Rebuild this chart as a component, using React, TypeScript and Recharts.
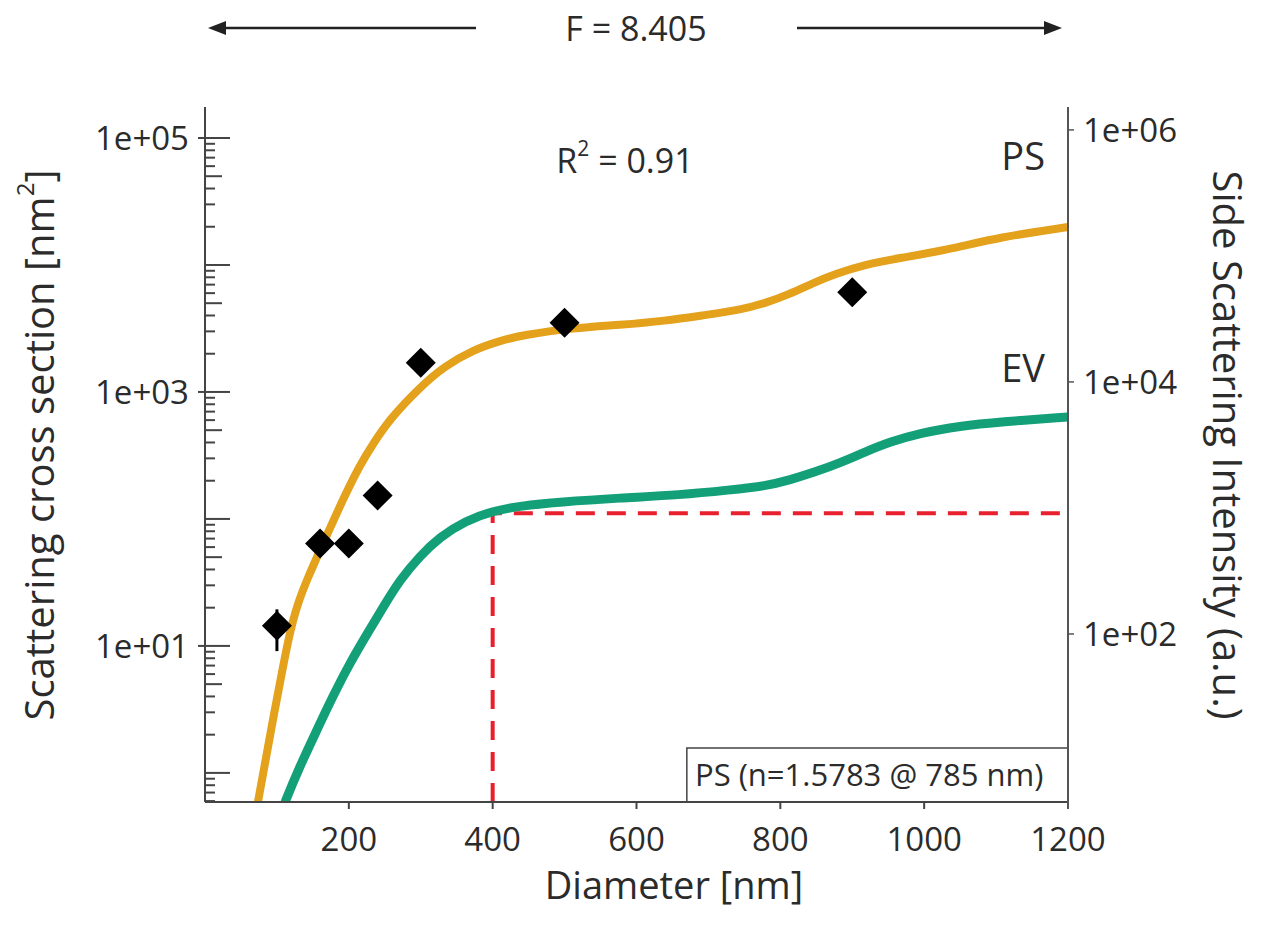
import React from 'react';
import {
  ComposedChart, Line, Scatter, XAxis, YAxis, ErrorBar, ReferenceArea,
} from 'recharts';

const FONT = '"Open Sans", "Noto Sans", sans-serif';
const INK = '#2b2b2b';

const X_TICKS = [200, 400, 600, 800, 1000, 1200];
const LEFT_DECADES = [0.1, 1, 10, 100, 1000, 10000, 100000];
const LEFT_LABELED = [10, 1000, 100000];
const RIGHT_TICKS = [100, 10000, 1000000];

const LEFT_DOMAIN = [0.59, 175400];
const RIGHT_DOMAIN = [4.64, 1520000];

// PS fitted curve (orange)
const PS_D = [62.6, 73.7, 84.8, 95.9, 107.1, 116.8, 127.9, 141.8, 166.9, 194.7, 215.5, 233.6, 257.2, 299, 333.7, 372.7, 410.2, 442.2, 511.7, 577.1, 639.6, 695.3, 743.9, 780.1, 813.4, 845.4, 876, 914.9, 966.4, 1031.8, 1105.4, 1200];
const PS_SIGMA = [0.271, 0.591, 1.31, 2.92, 6.24, 12.0, 20.8, 33.4, 69.3, 154.5, 266, 390, 615, 1094, 1603, 2143, 2523, 2812, 3192, 3373, 3624, 4038, 4426, 5025, 5916, 7216, 8490, 10000, 11350, 13130, 16600, 19900];

// EV curve (green)
const EV_D = [104.3, 111.2, 132.1, 155.7, 178, 201.6, 225.3, 248.9, 271.1, 299, 326.8, 361.5, 400.5, 438, 493.6, 577.1, 660.5, 730, 780.1, 813.4, 848.2, 883, 917.7, 952.5, 994.2, 1049.8, 1105.4, 1200];
const EV_SIGMA = [0.458, 0.591, 1.135, 2.18, 4.04, 7.35, 12.4, 20.7, 33.1, 51.2, 72.2, 96.4, 115.6, 126.6, 136, 146.3, 154.5, 169, 182, 203, 234, 276, 337, 404, 475, 540, 581, 636];

// measured PS beads
const BEAD_D = [100, 160, 200, 240, 300, 500, 900];
const BEAD_SIGMA = [14.4, 64, 64, 153, 1700, 3500, 6100];
const BEAD_ERR_LOW = [5.3, 0, 0, 0, 0, 0, 0];
const BEAD_ERR_HIGH = [5, 0, 0, 0, 0, 0, 0];

// red dashed guide (400 nm threshold)
const GUIDE_D = [400, 400, 1200];
const GUIDE_SIGMA = [0.59, 111, 111];

const psCurve = PS_D.map((x, i) => ({ x, y: PS_SIGMA[i] }));
const evCurve = EV_D.map((x, i) => ({ x, y: EV_SIGMA[i] }));
const beads = BEAD_D.map((x, i) => ({ x, y: BEAD_SIGMA[i], err: [BEAD_ERR_LOW[i], BEAD_ERR_HIGH[i]] }));
const guide = GUIDE_D.map((x, i) => ({ x, y: GUIDE_SIGMA[i] }));

const leftTicks = [];
LEFT_DECADES.forEach((d) => {
  for (let m = 1; m <= 9; m++) {
    const v = +(m * d).toPrecision(6);
    if (v >= LEFT_DOMAIN[0] && v <= LEFT_DOMAIN[1]) leftTicks.push(v);
  }
});

const fmtExp = (v) => {
  const [m, e] = v.toExponential(0).split('e');
  const n = Number(e);
  return m + 'e' + (n < 0 ? '-' : '+') + String(Math.abs(n)).padStart(2, '0');
};

const LeftTick = ({ x, y, payload }) => {
  const v = payload.value;
  const exp = Math.floor(Math.log10(v) + 1e-9);
  const mant = Math.round(v / Math.pow(10, exp));
  const labeled = LEFT_LABELED.includes(v);
  const len = mant === 1 ? 25 : mant === 5 ? 17 : 10;
  return (
    <g>
      <line x1={labeled ? x - 7 : x} x2={x + len} y1={y} y2={y} stroke="#444" strokeWidth={2} />
      {labeled && (
        <text x={x - 16} y={y} textAnchor="end" dominantBaseline="central"
          fontSize={33} fontFamily={FONT} fill={INK}>{fmtExp(v)}</text>
      )}
    </g>
  );
};

const RightTick = ({ x, y, payload }) => (
  <text x={x + 9} y={y} textAnchor="start" dominantBaseline="central"
    fontSize={33} fontFamily={FONT} fill={INK}>{fmtExp(payload.value)}</text>
);

const BottomTick = ({ x, y, payload }) => (
  <text x={x} y={y + 29} textAnchor="middle" dominantBaseline="central"
    fontSize={33} fontFamily={FONT} fill={INK}>{payload.value}</text>
);

const Diamond = ({ cx, cy }) => {
  if (cx == null || cy == null) return null;
  const r = 15;
  return <polygon points={`${cx},${cy - r} ${cx + r},${cy} ${cx},${cy + r} ${cx - r},${cy}`} fill="#000" />;
};

export default function App() {
  return (
    <div style={{ position: 'absolute', left: 0, top: 0, width: 1276, height: 931, background: '#fff', fontFamily: FONT }}>
      <ComposedChart width={1276} height={931} margin={{ top: 107, right: 0, bottom: 0, left: 0 }}>
        <XAxis
          dataKey="x" type="number" domain={[0, 1200]} ticks={X_TICKS} interval={0}
          height={129} tickSize={7} tickMargin={0}
          axisLine={{ stroke: '#444', strokeWidth: 2 }} tickLine={{ stroke: '#444', strokeWidth: 2 }}
          tick={<BottomTick />}
        />
        <YAxis
          yAxisId="left" type="number" scale="log" domain={LEFT_DOMAIN} allowDataOverflow
          ticks={leftTicks} interval={0} width={205} tickSize={0} tickMargin={0} tickLine={false}
          axisLine={{ stroke: '#444', strokeWidth: 2 }} tick={<LeftTick />}
        />
        <YAxis
          yAxisId="right" orientation="right" type="number" scale="log" domain={RIGHT_DOMAIN} allowDataOverflow
          ticks={RIGHT_TICKS} interval={0} width={208} tickSize={6} tickMargin={0}
          axisLine={{ stroke: '#555', strokeWidth: 2 }} tickLine={{ stroke: '#555', strokeWidth: 1.5 }}
          tick={<RightTick />}
        />
        <ReferenceArea
          yAxisId="left" x1={670} x2={1200} y1={LEFT_DOMAIN[0]} y2={1.57}
          fill="#fff" fillOpacity={1} stroke="#444" strokeWidth={1.5} ifOverflow="hidden"
        />
        <Line yAxisId="left" data={guide} dataKey="y" type="linear" stroke="#e8202e" strokeWidth={4}
          strokeDasharray="19 12" dot={false} activeDot={false} isAnimationActive={false} />
        <Line yAxisId="left" data={evCurve} dataKey="y" type="basis" stroke="#13a079" strokeWidth={9}
          dot={false} activeDot={false} isAnimationActive={false} />
        <Line yAxisId="left" data={psCurve} dataKey="y" type="basis" stroke="#e3a11c" strokeWidth={8}
          dot={false} activeDot={false} isAnimationActive={false} />
        <Scatter yAxisId="left" data={beads} dataKey="y" shape={<Diamond />} isAnimationActive={false}>
          <ErrorBar dataKey="err" direction="y" width={0} stroke="#000" strokeWidth={3} />
        </Scatter>
      </ComposedChart>

      <svg width={1276} height={931} style={{ position: 'absolute', left: 0, top: 0, pointerEvents: 'none' }}
        fontFamily={FONT} fill={INK}>
        <line x1={1068} x2={1068} y1={801} y2={809} stroke="#555" strokeWidth={2} />
        <line x1={222} x2={476} y1={28} y2={28} stroke="#222" strokeWidth={2.5} />
        <polygon points="208,28 226,21 226,35" fill="#222" />
        <line x1={797} x2={1048} y1={28} y2={28} stroke="#222" strokeWidth={2.5} />
        <polygon points="1062,28 1044,21 1044,35" fill="#222" />
        <text x={636} y={28} textAnchor="middle" dominantBaseline="central" fontSize={34}>F = 8.405</text>

        <text x={625} y={160} textAnchor="middle" dominantBaseline="central" fontSize={34}>
          R<tspan fontSize={21} dy={-12}>2</tspan><tspan dy={12}> = 0.91</tspan>
        </text>
        <text x={1045} y={155} textAnchor="end" dominantBaseline="central" fontSize={38}>PS</text>
        <text x={1045} y={367} textAnchor="end" dominantBaseline="central" fontSize={38}>EV</text>
        <text x={695} y={774} textAnchor="start" dominantBaseline="central" fontSize={31}>PS (n=1.5783 @ 785 nm)</text>

        <text x={674} y={884} textAnchor="middle" dominantBaseline="central" fontSize={38}>Diameter [nm]</text>
        <text x={38} y={445} textAnchor="middle" dominantBaseline="central" fontSize={40}
          transform="rotate(-90 38 445)">
          Scattering cross section [nm<tspan fontSize={24} dy={-14}>2</tspan><tspan dy={14}>]</tspan>
        </text>
        <text x={1228} y={445} textAnchor="middle" dominantBaseline="central" fontSize={40}
          transform="rotate(90 1228 445)">Side Scattering Intensity (a.u.)</text>
      </svg>
    </div>
  );
}
